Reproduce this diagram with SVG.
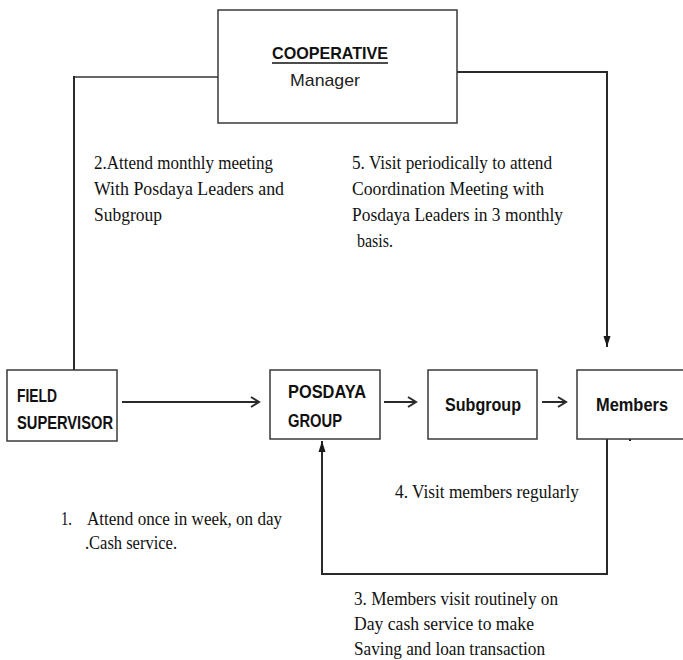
<svg xmlns="http://www.w3.org/2000/svg" width="683" height="660" viewBox="0 0 683 660">
<defs>
<style>
.box{fill:#fff;stroke:#3a3a3a;stroke-width:1.5}
.lbl{font-family:"Liberation Sans",Arial,sans-serif;font-weight:bold;font-size:18px;fill:#111}
.t{font-family:"Liberation Serif","Times New Roman",serif;font-size:19.5px;fill:#111}
.c{fill:none;stroke:#2a2a2a;stroke-width:2}
.thin{fill:none;stroke:#333;stroke-width:1.5}
</style>
<marker id="open" markerWidth="12" markerHeight="12" refX="9" refY="6" orient="auto" markerUnits="userSpaceOnUse">
<path d="M1,1 L9,6 L1,11" fill="none" stroke="#2a2a2a" stroke-width="2"/>
</marker>
<marker id="solid" markerWidth="12" markerHeight="10" refX="11" refY="5" orient="auto" markerUnits="userSpaceOnUse">
<path d="M0,1.5 L11,5 L0,8.5 Z" fill="#1a1a1a"/>
</marker>
</defs>
<rect width="683" height="660" fill="#fff"/>

<g id="connectors">
<polyline class="thin" points="218,77 74,77"/>
<line class="c" x1="74" y1="76" x2="74" y2="370" stroke-width="2.5"/>
<polyline class="c" points="457,72 607,72 607,347" marker-end="url(#solid)"/>
<line class="c" x1="122" y1="402" x2="259" y2="402" marker-end="url(#open)"/>
<line class="c" x1="384" y1="402" x2="416" y2="402" marker-end="url(#open)"/>
<line class="c" x1="542" y1="402" x2="566" y2="402" marker-end="url(#open)"/>
<polyline class="c" points="607,439 607,574 322,574 322,441" marker-end="url(#solid)"/>
<rect x="629" y="439" width="2" height="2" fill="#222"/>
</g>

<g id="cooperative">
<rect class="box" x="218" y="10" width="239" height="113"/>
<text x="272" y="59" font-family="Liberation Sans,Arial,sans-serif" font-weight="bold" font-size="17" fill="#111" textLength="116" lengthAdjust="spacingAndGlyphs">COOPERATIVE</text>
<line x1="272" y1="63" x2="388" y2="63" stroke="#111" stroke-width="1.6"/>
<text x="290" y="86" font-family="Liberation Sans,Arial,sans-serif" font-size="17" fill="#222" textLength="70" lengthAdjust="spacingAndGlyphs">Manager</text>
</g>

<g id="field-supervisor">
<rect class="box" x="7" y="370" width="110" height="71"/>
<text class="lbl" x="17" y="402" textLength="40" lengthAdjust="spacingAndGlyphs">FIELD</text>
<text class="lbl" x="17" y="429" textLength="96" lengthAdjust="spacingAndGlyphs">SUPERVISOR</text>
</g>

<g id="posdaya-group">
<rect class="box" x="270" y="370" width="110" height="69"/>
<text class="lbl" x="288" y="398" textLength="78" lengthAdjust="spacingAndGlyphs">POSDAYA</text>
<text class="lbl" x="288" y="427" textLength="54" lengthAdjust="spacingAndGlyphs">GROUP</text>
</g>

<g id="subgroup">
<rect class="box" x="428" y="370" width="109" height="69"/>
<text class="lbl" x="445" y="411" textLength="76" lengthAdjust="spacingAndGlyphs">Subgroup</text>
</g>

<g id="members">
<rect class="box" x="577" y="370" width="115" height="69"/>
<text class="lbl" x="596" y="411" textLength="72" lengthAdjust="spacingAndGlyphs">Members</text>
</g>

<g id="labels">
<text class="t" x="94" y="169" textLength="179" lengthAdjust="spacingAndGlyphs">2.Attend monthly meeting</text>
<text class="t" x="94" y="195" textLength="190" lengthAdjust="spacingAndGlyphs">With Posdaya Leaders and</text>
<text class="t" x="94" y="221" textLength="68" lengthAdjust="spacingAndGlyphs">Subgroup</text>

<text class="t" x="352" y="169" textLength="200" lengthAdjust="spacingAndGlyphs">5. Visit periodically to attend</text>
<text class="t" x="352" y="195" textLength="192" lengthAdjust="spacingAndGlyphs">Coordination Meeting  with</text>
<text class="t" x="352" y="221" textLength="211" lengthAdjust="spacingAndGlyphs">Posdaya Leaders in 3 monthly</text>
<text class="t" x="357" y="247" textLength="36" lengthAdjust="spacingAndGlyphs">basis.</text>

<text class="t" x="61" y="525" textLength="11" lengthAdjust="spacingAndGlyphs">1.</text>
<text class="t" x="87" y="525" textLength="195" lengthAdjust="spacingAndGlyphs">Attend once in week, on day</text>
<text class="t" x="85" y="549" textLength="92" lengthAdjust="spacingAndGlyphs">.Cash service.</text>

<text class="t" x="395" y="498" textLength="184" lengthAdjust="spacingAndGlyphs">4. Visit members regularly</text>

<text class="t" x="354" y="605" textLength="204" lengthAdjust="spacingAndGlyphs">3. Members visit routinely on</text>
<text class="t" x="354" y="630" textLength="180" lengthAdjust="spacingAndGlyphs">Day cash service to make</text>
<text class="t" x="354" y="655" textLength="191" lengthAdjust="spacingAndGlyphs">Saving and loan transaction</text>
</g>
</svg>
